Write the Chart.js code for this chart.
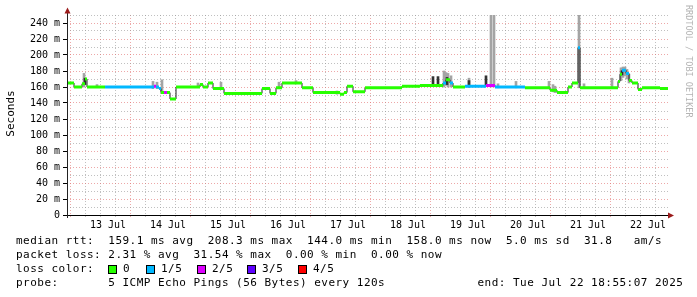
<!DOCTYPE html>
<html>
<head>
<meta charset="utf-8">
<script src="https://cdn.jsdelivr.net/npm/chart.js@4/dist/chart.umd.min.js"></script>
<style>
  html, body { margin: 0; padding: 0; background: #fff; }
  #wrap { width: 697px; height: 297px; }
</style>
</head>
<body>
<div id="wrap"><canvas id="chart" width="697" height="297"></canvas></div>
<script>
// time is in hours after 13 Jul 00:00
var startHour = -4.4;
var endHour = 236;
var dayLabels = ['13 Jul', '14 Jul', '15 Jul', '16 Jul', '17 Jul', '18 Jul', '19 Jul', '20 Jul', '21 Jul', '22 Jul'];

// median rtt, one step per entry (value holds until the next hour)
var stepHour = [-4.4, -1.6, 1.6, 2.8, 3.6, 10.8, 30.4, 31.2, 32.4, 33.2,
  34.4, 35.6, 36.8, 39.2, 48.8, 50, 52, 54, 58.4, 73.6,
  76.8, 79.2, 81.6, 89.6, 94, 104.8, 106.4, 107.6, 110, 114.8,
  129.6, 136.8, 146, 147.2, 148.8, 150, 154.8, 163.2, 166.8, 178.8,
  188.8, 191.6, 196, 197.6, 200, 200.8, 216, 216.8, 217.6, 219.2,
  220.4, 221.6, 224, 225.6, 232.8];
var stepRtt = [165, 160, 164, 170, 160, 160, 161, 160, 158, 153,
  153, 153, 145, 160, 163, 160, 165, 158, 152, 158,
  152, 159, 165, 159, 153, 151, 153, 161, 154, 159,
  161, 162, 165, 169, 165, 160, 161, 162, 160, 159,
  156, 153, 160, 165, 209, 159, 167, 176, 181, 177,
  168, 165, 157, 159, 158];
// lost pings out of 5
var stepLoss = [0, 0, 0, 0, 0, 1, 2, 1, 1, 0,
  2, 0, 0, 0, 0, 0, 0, 0, 0, 0,
  0, 0, 0, 0, 0, 0, 0, 0, 0, 0,
  0, 0, 1, 0, 1, 0, 1, 2, 1, 0,
  0, 0, 0, 0, 1, 0, 0, 0, 1, 1,
  0, 0, 0, 0, 0];

// smoke (spread of the pings)
var smokeHour = [2.4, 7.6, 30, 31.6, 33.6, 48, 57.2, 80.4, 87.2, 103.6,
  146.4, 147.2, 148, 149.2, 156.4, 165.2, 166.4, 168, 175.2, 188.4,
  190, 190.8, 200.4, 202.4, 213.6, 217.2, 218, 218.8, 219.6, 220.4];
var smokeLow = [160, 160, 158, 158, 152, 160, 157, 158, 164, 151,
  160, 162, 160, 160, 160, 160, 160, 159, 159, 158,
  154, 153, 159, 159, 159, 168, 172, 174, 170, 165];
var smokeHigh = [177, 163, 167, 166, 169, 165, 166, 166, 168, 155,
  180, 178, 177, 174, 171, 255, 255, 164, 167, 167,
  163, 161, 255, 164, 171, 184, 185, 185, 182, 176];
var darkHour = [2.8, 142, 144, 147.6, 156.4, 163.2, 217.6];
var darkLow = [163, 161, 161, 163, 160, 161, 175];
var darkHigh = [171, 173, 173, 172, 168, 174, 180];

var lossLabels = ['0', '1/5', '2/5', '3/5', '4/5'];
var lossColors = ['#26ff00', '#00b8ff', '#dd00ff', '#5e00ff', '#ff0000'];

var legendLines = [
  'median rtt:  159.1 ms avg  208.3 ms max  144.0 ms min  158.0 ms now  5.0 ms sd  31.8   am/s',
  'packet loss: 2.31 % avg  31.54 % max  0.00 % min  0.00 % now',
  'loss color:',
  'probe:       5 ICMP Echo Pings (56 Bytes) every 120s             end: Tue Jul 22 18:55:07 2025'
];

var mono = 'DejaVu Sans Mono';
var minorGrid = 'rgba(150,150,150,0.6)';
var majorGrid = 'rgba(225,110,110,0.6)';

// build datasets
var smokeData = [];
var smokeColors = [];
for (var i = 0; i < smokeHour.length; i++) {
  smokeData.push({x: smokeHour[i], y: [smokeLow[i], smokeHigh[i]]});
  smokeColors.push('#a4a4a4');
}
for (var i = 0; i < darkHour.length; i++) {
  smokeData.push({x: darkHour[i], y: [darkLow[i], darkHigh[i]]});
  smokeColors.push('#333333');
}

var medianData = [];
for (var i = 0; i < stepHour.length; i++) {
  medianData.push({x: stepHour[i], y: stepRtt[i]});
}
medianData.push({x: endHour, y: stepRtt[stepRtt.length - 1]});

var datasets = [];
for (var k = 0; k < lossColors.length; k++) {
  var pts = [];
  for (var i = 0; i < stepHour.length; i++) {
    if (stepLoss[i] != k) continue;
    var until = i + 1 < stepHour.length ? stepHour[i + 1] : endHour;
    pts.push({x: stepHour[i], y: stepRtt[i]});
    pts.push({x: until, y: stepRtt[i]});
    pts.push({x: until, y: null});
  }
  datasets.push({
    type: 'line', label: lossLabels[k], data: pts, order: 0,
    borderColor: lossColors[k], borderWidth: 3, borderCapStyle: 'butt',
    pointRadius: 0, spanGaps: false, tension: 0
  });
}
datasets.push({
  type: 'line', label: 'median', data: medianData, order: 1,
  borderColor: '#202020', borderWidth: 1, stepped: 'before',
  pointRadius: 0, tension: 0
});
datasets.push({
  type: 'bar', label: 'smoke', data: smokeData, order: 2,
  backgroundColor: smokeColors, barThickness: 2, borderWidth: 0
});

// rrdtool text is a fixed 7.1px grid
function monoText(ctx, text, x, y) {
  for (var i = 0; i < text.length; i++) {
    if (text[i] != ' ') ctx.fillText(text[i], x + i * 7.1, y);
  }
}

var decorations = {
  id: 'decorations',
  beforeDraw: function(chart) {
    var ctx = chart.ctx;
    ctx.save();
    ctx.fillStyle = '#fff';
    ctx.fillRect(0, 0, chart.width, chart.height);
    ctx.restore();
  },
  afterDraw: function(chart) {
    var ctx = chart.ctx, a = chart.chartArea;
    ctx.save();

    // axes with arrows
    ctx.lineWidth = 1;
    ctx.strokeStyle = '#000';
    ctx.beginPath();
    ctx.moveTo(a.left - 4, a.bottom + 0.5);
    ctx.lineTo(a.right + 1, a.bottom + 0.5);
    ctx.stroke();
    ctx.strokeStyle = '#222';
    ctx.beginPath();
    ctx.moveTo(a.left + 0.5, a.bottom + 3);
    ctx.lineTo(a.left + 0.5, a.top - 3);
    ctx.stroke();
    ctx.fillStyle = '#9b1b1b';
    ctx.beginPath();
    ctx.moveTo(a.right, a.bottom - 2.5);
    ctx.lineTo(a.right + 6, a.bottom + 0.5);
    ctx.lineTo(a.right, a.bottom + 3.5);
    ctx.fill();
    ctx.beginPath();
    ctx.moveTo(a.left - 2.5, a.top - 1.5);
    ctx.lineTo(a.left + 3.5, a.top - 1.5);
    ctx.lineTo(a.left + 0.5, a.top - 7.5);
    ctx.fill();

    // y title
    ctx.fillStyle = '#000';
    ctx.font = '11px "' + mono + '"';
    ctx.textAlign = 'center';
    ctx.textBaseline = 'middle';
    ctx.save();
    ctx.translate(11.5, 113.5);
    ctx.rotate(-Math.PI / 2);
    ctx.fillText('Seconds', 0, 0);
    ctx.restore();

    // watermark
    ctx.save();
    ctx.fillStyle = '#b4b4b4';
    ctx.font = '8.5px "' + mono + '"';
    ctx.textAlign = 'left';
    ctx.translate(688.5, 5);
    ctx.rotate(Math.PI / 2);
    ctx.fillText('RRDTOOL / TOBI OETIKER', 0, 0);
    ctx.restore();

    // legend text
    ctx.fillStyle = '#000';
    ctx.font = '11px "' + mono + '"';
    ctx.textAlign = 'left';
    ctx.textBaseline = 'middle';
    var rowY = [241.5, 255.5, 269.5, 283];
    for (var r = 0; r < legendLines.length; r++) {
      monoText(ctx, legendLines[r], 16, rowY[r]);
    }
    var boxX = [108, 146, 197, 247, 298];
    for (var k = 0; k < lossLabels.length; k++) {
      ctx.fillStyle = lossColors[k];
      ctx.fillRect(boxX[k], 265, 8, 8);
      ctx.strokeStyle = '#000';
      ctx.strokeRect(boxX[k] + 0.5, 265.5, 8, 8);
      ctx.fillStyle = '#000';
      monoText(ctx, lossLabels[k], boxX[k] + 15, rowY[2]);
    }
    ctx.restore();
  }
};

new Chart(document.getElementById('chart'), {
  type: 'line',
  data: {datasets: datasets},
  options: {
    responsive: false,
    animation: false,
    events: [],
    layout: {padding: {left: 0, top: 15, right: 29, bottom: 0}},
    plugins: {legend: {display: false}, tooltip: {enabled: false}},
    scales: {
      x: {
        type: 'linear', min: startHour, max: endHour, offset: false,
        afterBuildTicks: function(scale) {
          var t = [];
          for (var h = 0; h <= endHour; h += 6) t.push({value: h});
          scale.ticks = t;
        },
        afterFit: function(scale) { scale.height = 82; },
        ticks: {
          autoSkip: false, maxRotation: 0, padding: 2, color: '#000',
          font: {family: mono, size: 10},
          callback: function(v) { return v % 24 == 12 ? dayLabels[(v - 12) / 24] : ''; }
        },
        grid: {
          tickLength: 2,
          color: function(c) { return c.tick && c.tick.value % 24 == 0 ? majorGrid : minorGrid; }
        },
        border: {display: false, dash: [1, 2]}
      },
      y: {
        type: 'linear', min: 0, max: 250, stacked: false,
        afterBuildTicks: function(scale) {
          var t = [];
          for (var v = 0; v <= 250; v += 10) t.push({value: v});
          scale.ticks = t;
        },
        afterFit: function(scale) { scale.width = 67; },
        ticks: {
          autoSkip: false, padding: 3, color: '#000',
          font: {family: mono, size: 10},
          callback: function(v) { return v % 20 == 0 ? (v == 0 ? '0' : v + ' m') : ''; }
        },
        grid: {
          tickLength: 4,
          color: function(c) { return c.tick && c.tick.value % 20 == 0 ? majorGrid : minorGrid; },
          tickColor: function(c) { return c.tick && c.tick.value % 20 == 0 ? '#000' : 'rgba(0,0,0,0)'; }
        },
        border: {display: false, dash: [1, 2]}
      }
    }
  },
  plugins: [decorations]
});
</script>
</body>
</html>
